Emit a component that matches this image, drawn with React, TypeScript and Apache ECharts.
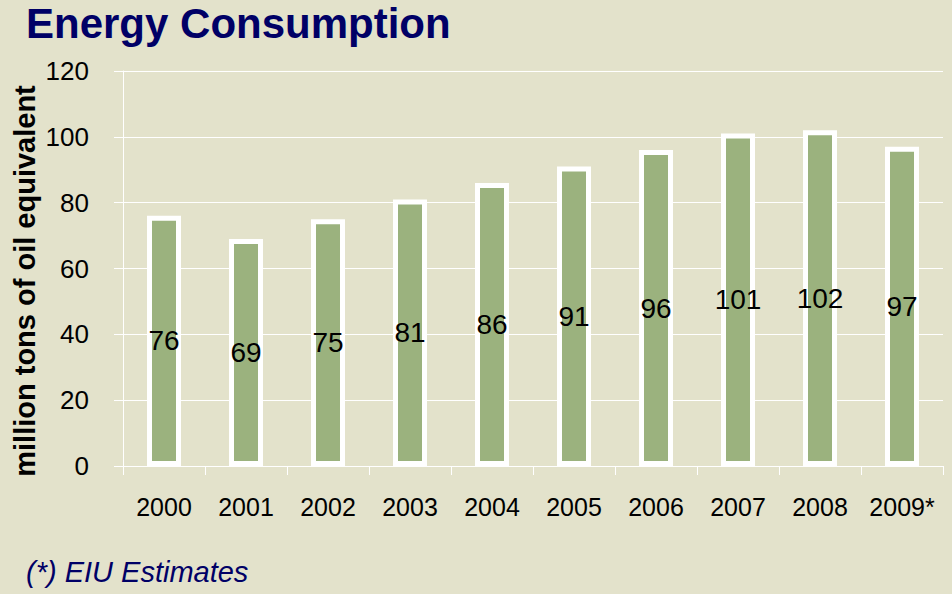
import React, { useEffect, useRef } from "react";
import * as echarts from "echarts";

const categories = ["2000", "2001", "2002", "2003", "2004", "2005", "2006", "2007", "2008", "2009*"];
const values = [76, 69, 75, 81, 86, 91, 96, 101, 102, 97];
const yTicks = { min: 0, max: 120, interval: 20 };

const FONT = "'Liberation Sans', Arial, sans-serif";

export default function App() {
  const ref = useRef<HTMLDivElement>(null);
  useEffect(() => {
    const chart = echarts.init(ref.current!, null, { renderer: "svg" });
    chart.setOption({
      animation: false,
      backgroundColor: "#E3E2CB",
      textStyle: { fontFamily: FONT },
      title: {
        text: "Energy Consumption",
        left: 21,
        top: -3,
        textStyle: { fontFamily: FONT, fontSize: 42, fontWeight: "bold", color: "#000066" },
      },
      graphic: [
        {
          type: "text",
          left: 26,
          top: 557,
          style: {
            text: "(*) EIU Estimates",
            font: `italic 29px ${FONT}`,
            fill: "#000066",
          },
        },
        {
          type: "text",
          x: 25,
          y: 281,
          rotation: Math.PI / 2,
          style: {
            text: "million tons of oil equivalent",
            font: `bold 29px ${FONT}`,
            fill: "#000000",
            align: "center",
            verticalAlign: "middle",
          },
        },
      ],
      grid: { left: 123, right: 9, top: 71, bottom: 128, containLabel: false },
      xAxis: {
        type: "category",
        data: categories,
        axisLine: { show: true, lineStyle: { color: "#FFFFFF", width: 1 } },
        axisTick: { show: true, length: 9, lineStyle: { color: "#FFFFFF" } },
        axisLabel: { color: "#000000", fontSize: 25, margin: 28, fontFamily: FONT, interval: 0 },
      },
      yAxis: {
        type: "value",
        min: yTicks.min,
        max: yTicks.max,
        interval: yTicks.interval,
        axisLine: { show: true, lineStyle: { color: "#FFFFFF", width: 1 } },
        axisTick: { show: true, length: 9, lineStyle: { color: "#FFFFFF" } },
        axisLabel: { color: "#000000", fontSize: 26, margin: 34, fontFamily: FONT },
        splitLine: { show: true, lineStyle: { color: "#FFFFFF", width: 1 } },
      },
      series: [
        {
          type: "bar",
          data: values,
          barWidth: 34,
          itemStyle: { color: "#9BB27E", borderColor: "#FFFFFF", borderWidth: 5 },
          label: {
            show: true,
            position: "inside",
            color: "#000000",
            fontSize: 28,
            fontFamily: FONT,
          },
        },
      ],
    });
    return () => chart.dispose();
  }, []);
  return <div ref={ref} style={{ width: 952, height: 594, position: "absolute", left: 0, top: 0 }} />;
}
